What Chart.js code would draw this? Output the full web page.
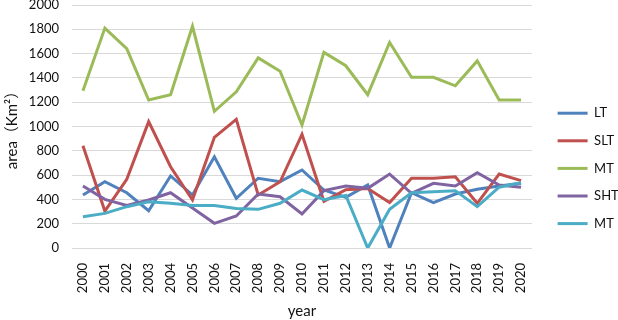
<!DOCTYPE html>
<html>
<head>
<meta charset="utf-8">
<script src="https://cdn.jsdelivr.net/npm/chart.js@4"></script>
<style>
  html, body { margin: 0; padding: 0; background: #fff; }
  #wrap { width: 618px; height: 320px; }
</style>
</head>
<body>
<div id="wrap"><canvas id="areaChart"></canvas></div>
<script>
const years = ["2000","2001","2002","2003","2004","2005","2006","2007","2008","2009","2010",
               "2011","2012","2013","2014","2015","2016","2017","2018","2019","2020"];

const LT  = [436, 546, 455, 307, 593, 436, 751, 409, 574, 546, 642, 477, 417, 519, 0, 455, 373, 444, 483, 510, 532];
const SLT = [842, 304, 565, 1040, 669, 395, 911, 1059, 436, 545, 936, 385, 480, 490, 375, 574, 574, 587, 368, 609, 554];
const MT  = [1295, 1810, 1640, 1218, 1262, 1825, 1125, 1285, 1565, 1455, 1012, 1610, 1500, 1262, 1692, 1405, 1405, 1335, 1540, 1218, 1218];
const SHT = [510, 400, 350, 395, 455, 330, 203, 263, 444, 422, 280, 472, 510, 491, 609, 450, 532, 510, 620, 519, 500];
const MT2 = [258, 285, 340, 381, 368, 350, 350, 326, 318, 368, 477, 398, 432, 0, 318, 455, 463, 472, 340, 500, 537];

const FONT = 'Lato, "Noto Sans CJK SC", sans-serif';
const TXT = "#111";

// excel draws later series on top, chart.js the first one -> reverse + legend.reverse
const series = [
  { label: "LT",  data: LT,  color: "#4F81BD" },
  { label: "SLT", data: SLT, color: "#C0504D" },
  { label: "MT",  data: MT,  color: "#9BBB59" },
  { label: "SHT", data: SHT, color: "#8064A2" },
  { label: "MT",  data: MT2, color: "#4BACC6" }
].reverse();

const ctx = document.getElementById("areaChart").getContext("2d");
new Chart(ctx, {
  type: "line",
  data: {
    labels: years,
    datasets: series.map(s => ({
      label: s.label,
      data: s.data,
      borderColor: s.color,
      backgroundColor: s.color,
      borderWidth: 3,
      pointRadius: 0,
      tension: 0,
      fill: false
    }))
  },
  options: {
    responsive: true,
    maintainAspectRatio: false,
    animation: false,
    layout: { padding: 0 },
    scales: {
      x: {
        offset: true,
        grid: { display: false, drawTicks: false },
        border: { display: false },
        ticks: {
          autoSkip: false, minRotation: 90, maxRotation: 90,
          padding: 15, color: TXT,
          font: { family: FONT, size: 13 }
        },
        title: {
          display: true, text: "year", color: TXT,
          font: { family: FONT, size: 15 },
          padding: { top: 0, bottom: 0 }
        },
        afterFit: (s) => { s.height = 72; }
      },
      y: {
        min: 0, max: 2000,
        grid: { color: "#D9D9D9", lineWidth: 1, drawTicks: false },
        border: { display: false },
        ticks: {
          stepSize: 200, padding: 13, color: TXT,
          font: { family: FONT, size: 13 },
          callback: (v) => String(v)
        },
        title: {
          display: true, text: "area（Km²）", color: TXT,
          font: { family: FONT, size: 15 },
          padding: { top: 3, bottom: 8 }
        },
        // tick padding also pads top/bottom, keep the plot tall like the original
        afterFit: (s) => { s.width = 72; s.paddingTop = 5; s.paddingBottom = 0; }
      },
      // empty right axis, only to leave a gap between plot and legend
      gap: {
        position: "right",
        grid: { display: false },
        border: { display: false },
        ticks: { display: false },
        afterFit: (s) => { s.width = 11; }
      }
    },
    plugins: {
      tooltip: { enabled: false },
      legend: {
        position: "right",
        reverse: true,
        maxWidth: 75,
        title: { display: true, text: " ", font: { size: 14, lineHeight: 1.2 }, padding: 0 },
        labels: {
          boxWidth: 30, boxHeight: 3, padding: 14.6, color: TXT,
          font: { family: FONT, size: 13 },
          generateLabels: (chart) =>
            Chart.defaults.plugins.legend.labels.generateLabels(chart)
              .map(l => ({ ...l, lineWidth: 0, fillStyle: l.strokeStyle }))
        }
      }
    }
  }
});
</script>
</body>
</html>
